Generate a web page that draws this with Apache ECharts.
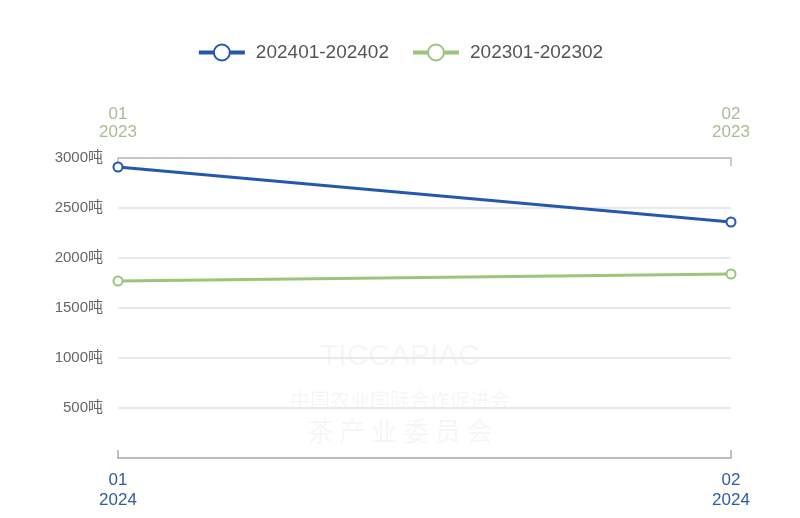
<!DOCTYPE html>
<html><head><meta charset="utf-8">
<script src="https://cdn.jsdelivr.net/npm/echarts@6/dist/echarts.min.js"></script>
<style>html,body{margin:0;padding:0;background:#fff}#c{width:800px;height:518px}</style>
</head><body><div id="c"></div>
<script>
const months2024 = ['01\n2024', '02\n2024'];
const months2023 = ['01\n2023', '02\n2023'];
const series2024Name = '202401-202402';
const series2023Name = '202301-202302';
const values2024 = [2910, 2360];
const values2023 = [1770, 1840];
const yTicks = [0, 500, 1000, 1500, 2000, 2500, 3000];

const blue = '#2458ad';
const green = '#9cc47c';
const chart = echarts.init(document.getElementById('c'));
chart.setOption({
  backgroundColor: '#fff',
  textStyle: { fontFamily: 'Helvetica, "Liberation Sans", "Noto Sans CJK SC", sans-serif' },
  legend: {
    top: 38, left: 'center', itemWidth: 46, itemHeight: 20, itemGap: 22,
    textStyle: { fontSize: 19, color: '#555', padding: [0, 0, 0, 6] },
    lineStyle: { width: 4 },
    itemStyle: { borderWidth: 3 },
    data: [series2024Name, series2023Name]
  },
  graphic: [
    { type: 'text', left: 'center', top: 342, silent: true, style: { text: 'TICCAPIAC', fontSize: 30, fill: 'rgba(0,0,0,0.04)', fontFamily: 'Liberation Sans' } },
    { type: 'text', left: 'center', top: 390, silent: true, style: { text: '中国农业国际合作促进会', fontSize: 20, fill: 'rgba(0,0,0,0.04)', fontFamily: 'Noto Sans CJK SC' } },
    { type: 'text', left: 'center', top: 418, silent: true, style: { text: '茶 产 业 委 员 会', fontSize: 26, fill: 'rgba(0,0,0,0.04)', fontFamily: 'Noto Sans CJK SC' } }
  ],
  grid: { left: 118, right: 69, top: 158, bottom: 60, containLabel: false },
  xAxis: [
    {
      type: 'category', position: 'bottom', boundaryGap: false, data: months2024,
      axisLine: { lineStyle: { color: '#aaa', width: 1.5 } },
      axisTick: { inside: true, length: 8, lineStyle: { color: '#aaa', width: 1.5 } },
      axisLabel: { color: '#2f5d9e', fontSize: 17, lineHeight: 20, margin: 12, interval: 0 }
    },
    {
      type: 'category', position: 'top', boundaryGap: false, data: months2023,
      axisLine: { lineStyle: { color: '#bbb', width: 1.5 } },
      axisTick: { inside: true, length: 8, lineStyle: { color: '#bbb', width: 1.5 } },
      axisLabel: { color: '#a9bb94', fontSize: 17, lineHeight: 18, margin: 17, interval: 0 }
    }
  ],
  yAxis: {
    type: 'value', min: yTicks[0], max: yTicks[yTicks.length - 1], interval: 500,
    axisLine: { show: false }, axisTick: { show: false },
    axisLabel: { color: '#666', fontSize: 15, margin: 15, formatter: v => v === 0 ? '' : v + '吨' },
    splitLine: { lineStyle: { color: '#dde3ec', width: 1.5 } }
  },
  series: [
    {
      name: series2024Name, type: 'line', xAxisIndex: 0, data: values2024,
      symbol: 'emptyCircle', symbolSize: 9, color: blue,
      lineStyle: { width: 3, color: blue }, itemStyle: { color: blue, borderWidth: 2.5 }
    },
    {
      name: series2023Name, type: 'line', xAxisIndex: 1, data: values2023,
      symbol: 'emptyCircle', symbolSize: 9, color: green,
      lineStyle: { width: 3, color: green }, itemStyle: { color: green, borderWidth: 2.5 }
    }
  ]
});
</script></body></html>
